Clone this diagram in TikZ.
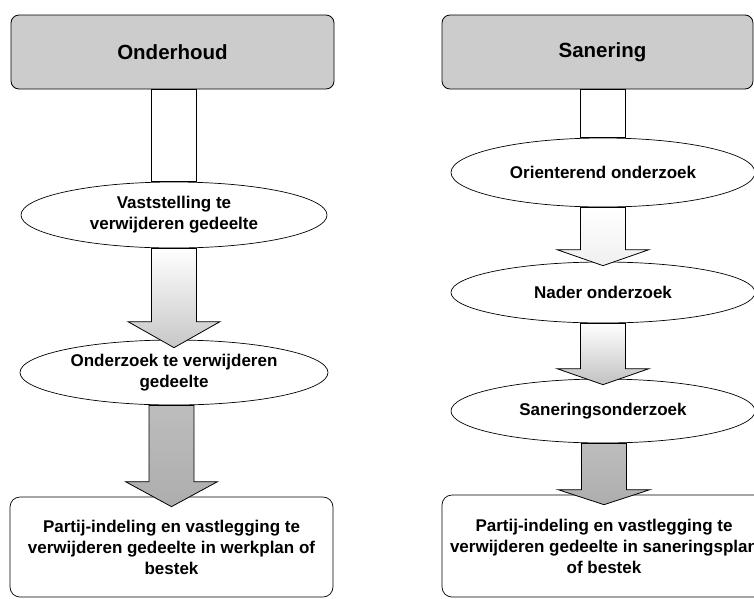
\documentclass[tikz,border=0pt]{standalone}
\usepackage{fontspec}
\setmainfont{Liberation Sans}
\usetikzlibrary{shapes.geometric,calc}
\newcommand{\fatarrow}[4]{%
  \path[arr,#4] let \p1=(#1), \p2=(#2) in
    (\x2-22.5pt,\y1) -- (\x2-22.5pt,\y2+#3) -- (\x2-46pt,\y2+#3) -- (\x2,\y2)
    -- (\x2+46pt,\y2+#3) -- (\x2+22.5pt,\y2+#3) -- (\x2+22.5pt,\y1) -- cycle;}
\newcommand{\shaft}[2]{%
  \path[arr,fill=white] let \p1=(#1), \p2=(#2) in
    (\x2-22.5pt,\y1) rectangle (\x2+22.5pt,\y2);}
\begin{document}
\begin{tikzpicture}[x=1pt,y=-1pt,
  every node/.style={font=\bfseries\fontsize{17}{21}\selectfont, text=black},
  hdr/.style={draw, line width=0.8pt, rounded corners=8pt, fill=black!20,
    font=\bfseries\fontsize{20.5}{24}\selectfont, inner sep=0pt},
  oval/.style={draw, ellipse, line width=0.7pt, fill=white, inner sep=0pt, align=center},
  endbox/.style={draw, line width=0.7pt, rounded corners=10pt, fill=white,
    inner sep=0pt, align=center},
  arr/.style={draw, line width=0.8pt}
]
\useasboundingbox (0,0) rectangle (754,598);
\fill[white] (0,0) rectangle (754,598);

% headers
\node[hdr, minimum width=323pt, minimum height=74pt] (h1) at (172.5,52) {Onderhoud};
\node[hdr, minimum width=311pt, minimum height=74pt] (h2) at (597.5,52) {\hspace*{10pt}Sanering};

% left column
\node[oval, minimum width=306pt, minimum height=66pt] (l1) at (174,215)
  {Vaststelling te\\verwijderen gedeelte};
\node[oval, minimum width=308pt, minimum height=65pt] (l2) at (174,372.5)
  {Onderzoek te verwijderen\\gedeelte};
\node[endbox, minimum width=323pt, minimum height=100pt] (l3) at (171.5,547)
  {Partij-indeling en vastlegging te\\verwijderen gedeelte in werkplan of\\bestek};

% right column
\node[oval, minimum width=304pt, minimum height=69pt] (r1) at (603,172.5)
  {Orienterend onderzoek};
\node[oval, minimum width=304pt, minimum height=61pt] (r2) at (603,292.5)
  {Nader onderzoek};
\node[oval, minimum width=304pt, minimum height=64pt] (r3) at (603,411)
  {Saneringsonderzoek};
\node[endbox, minimum width=324pt, minimum height=102pt] (r4) at (604,546)
  {Partij-indeling en vastlegging te\\verwijderen gedeelte in saneringsplan\\of bestek};

% connectors
\shaft{h1.south}{l1.north}
\shaft{h2.south}{r1.north}
\fatarrow{l1.south}{$(l2.north)+(0,8)$}{26pt}{top color=white, bottom color=black!22}
\fatarrow{l2.south}{$(l3.north)+(0,10)$}{25pt}{top color=black!26, bottom color=black!32}
\fatarrow{r1.south}{$(r2.north)+(0,4)$}{16pt}{top color=white, bottom color=black!6}
\fatarrow{r2.south}{$(r3.north)+(0,6)$}{16pt}{top color=white, bottom color=black!24}
\fatarrow{r3.south}{$(r4.north)+(0,10)$}{15pt}{top color=black!26, bottom color=black!32}
\end{tikzpicture}
\end{document}
